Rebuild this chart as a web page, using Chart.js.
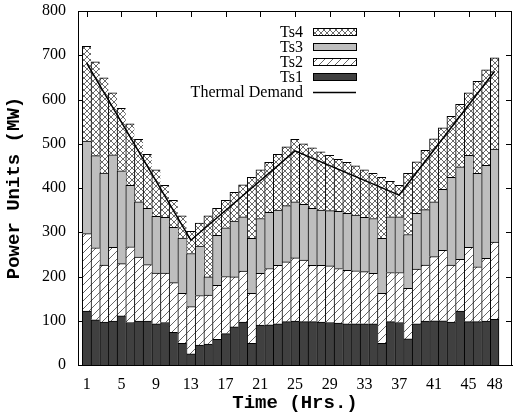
<!DOCTYPE html>
<html lang="en">
<head>
  <meta charset="UTF-8" />
  <title>Thermal units schedule</title>
  <script src="https://cdn.jsdelivr.net/npm/chart.js"></script>
  <style>
    html, body { margin: 0; padding: 0; background: #fff; }
    canvas { display: block; }
  </style>
</head>
<body>
  <canvas id="units" width="519" height="414"></canvas>

  <script>
    // hours 1..48
    const hours = [1, 2, 3, 4, 5, 6, 7, 8, 9, 10, 11, 12, 13, 14, 15, 16, 17, 18, 19, 20, 21, 22, 23, 24,
                   25, 26, 27, 28, 29, 30, 31, 32, 33, 34, 35, 36, 37, 38, 39, 40, 41, 42, 43, 44, 45, 46, 47, 48];

    // MW per unit
    const ts1 = [122, 102, 97, 99, 111, 96, 99, 99, 93, 96, 74, 49, 25, 45, 47, 58, 71, 86, 97, 49, 90, 91, 93, 98,
                 99, 98, 98, 97, 96, 95, 93, 93, 93, 93, 49, 98, 96, 59, 93, 99, 100, 100, 97, 122, 98, 98, 99, 103];
    const ts2 = [175, 163, 129, 167, 118, 171, 145, 128, 115, 112, 112, 113, 107, 112, 111, 122, 129, 113, 115, 113, 117, 127, 132, 135,
                 143, 139, 127, 128, 128, 123, 121, 120, 118, 114, 113, 111, 113, 114, 124, 127, 145, 159, 129, 117, 168, 124, 142, 175];
    const ts3 = [209, 208, 208, 209, 210, 139, 125, 127, 128, 126, 125, 125, 120, 112, 41, 113, 110, 126, 123, 124, 124, 127, 125, 127,
                 127, 126, 129, 125, 125, 129, 129, 126, 123, 124, 124, 126, 126, 122, 126, 125, 124, 138, 198, 209, 208, 211, 210, 210];
    const ts4 = [214, 212, 215, 140, 141, 139, 141, 122, 105, 72, 61, 50, 50, 52, 138, 61, 62, 65, 72, 138, 110, 113, 126, 133,
                 141, 137, 137, 132, 125, 118, 115, 111, 107, 102, 138, 80, 71, 138, 116, 134, 142, 139, 138, 141, 141, 208, 216, 206];

    // thermal demand corners
    const demandHours = [1, 13, 25, 37, 48];
    const demand = [682, 282, 484, 384, 664];

    const xTicks = [1, 5, 9, 13, 17, 21, 25, 29, 33, 37, 41, 45, 48];

    const canvas = document.getElementById('units');
    const ctx = canvas.getContext('2d');

    function hatch() {
      const c = document.createElement('canvas');
      c.width = 8; c.height = 8;
      const g = c.getContext('2d');
      g.fillStyle = '#fff';
      g.fillRect(0, 0, 8, 8);
      g.strokeStyle = '#555';
      g.lineWidth = 0.9;
      g.beginPath();
      g.moveTo(-1, 9); g.lineTo(9, -1);
      g.moveTo(-5, 5); g.lineTo(5, -5);
      g.moveTo(3, 13); g.lineTo(13, 3);
      g.stroke();
      return ctx.createPattern(c, 'repeat');
    }

    function crossHatch() {
      const c = document.createElement('canvas');
      c.width = 6; c.height = 6;
      const g = c.getContext('2d');
      g.fillStyle = '#fff';
      g.fillRect(0, 0, 6, 6);
      g.strokeStyle = '#444';
      g.lineWidth = 0.8;
      g.beginPath();
      g.moveTo(-1, 7); g.lineTo(7, -1);
      g.moveTo(-1, -1); g.lineTo(7, 7);
      g.stroke();
      return ctx.createPattern(c, 'repeat');
    }

    const pts = arr => hours.map((h, i) => ({ x: h, y: arr[i] }));
    const edge = c => ({ top: 1, left: 1, bottom: 0, right: (c.raw && c.raw.x === 48) ? 1 : 0 });

    const barDefaults = {
      type: 'bar',
      order: 1,
      borderColor: '#000',
      borderWidth: edge,
      borderSkipped: false,
      categoryPercentage: 1,
      barPercentage: 1
    };

    // inward tics on all four sides + full frame
    const frame = {
      id: 'frame',
      beforeDatasetsDraw(chart) {
        const { ctx, chartArea: a, scales } = chart;
        ctx.save();
        ctx.strokeStyle = '#000';
        ctx.lineWidth = 1;
        ctx.beginPath();
        for (let v = 0; v <= 800; v += 100) {
          const y = Math.round(scales.y.getPixelForValue(v)) + 0.5;
          ctx.moveTo(a.left, y); ctx.lineTo(a.left + 6, y);
          ctx.moveTo(a.right, y); ctx.lineTo(a.right - 6, y);
        }
        xTicks.forEach(v => {
          const x = Math.round(scales.x.getPixelForValue(v)) + 0.5;
          ctx.moveTo(x, a.bottom); ctx.lineTo(x, a.bottom - 6);
          ctx.moveTo(x, a.top); ctx.lineTo(x, a.top + 6);
        });
        ctx.stroke();
        ctx.restore();
      },
      afterDraw(chart) {
        const { ctx, chartArea: a } = chart;
        ctx.save();
        ctx.strokeStyle = '#000';
        ctx.lineWidth = 1;
        ctx.strokeRect(Math.round(a.left) + 0.5, Math.round(a.top) + 0.5,
                       Math.round(a.right - a.left) - 1, Math.round(a.bottom - a.top));
        ctx.restore();
      }
    };

    // gnuplot style key: text right aligned, sample on the right
    const key = {
      id: 'key',
      afterDraw(chart) {
        const { ctx } = chart;
        const ds = chart.data.datasets;
        const rows = [ds[3], ds[2], ds[1], ds[0], ds[4]];
        ctx.save();
        ctx.font = '16px "Liberation Serif"';
        ctx.textAlign = 'right';
        ctx.textBaseline = 'middle';
        rows.forEach((d, i) => {
          const y = 32 + i * 15;
          ctx.fillStyle = '#000';
          ctx.fillText(d.label, 303, y + 1);
          if (d.type === 'line') {
            ctx.strokeStyle = '#000';
            ctx.lineWidth = 1.5;
            ctx.beginPath();
            ctx.moveTo(313, y + 0.5); ctx.lineTo(356, y + 0.5);
            ctx.stroke();
          } else {
            ctx.fillStyle = d.backgroundColor;
            ctx.fillRect(313, y - 3.5, 43, 7);
            ctx.strokeStyle = '#000';
            ctx.lineWidth = 1;
            ctx.strokeRect(313.5, y - 3.5, 43, 7);
          }
        });
        ctx.restore();
      }
    };

    new Chart(ctx, {
      type: 'bar',
      data: {
        datasets: [
          Object.assign({}, barDefaults, { label: 'Ts1', data: pts(ts1), backgroundColor: '#404040' }),
          Object.assign({}, barDefaults, { label: 'Ts2', data: pts(ts2), backgroundColor: hatch() }),
          Object.assign({}, barDefaults, { label: 'Ts3', data: pts(ts3), backgroundColor: '#bebebe' }),
          Object.assign({}, barDefaults, { label: 'Ts4', data: pts(ts4), backgroundColor: crossHatch() }),
          {
            type: 'line',
            label: 'Thermal Demand',
            order: 0,
            stack: 'demand',
            data: demandHours.map((h, i) => ({ x: h, y: demand[i] })),
            borderColor: '#000',
            borderWidth: 1.5,
            pointRadius: 0,
            fill: false,
            tension: 0
          }
        ]
      },
      options: {
        responsive: false,
        devicePixelRatio: 1,
        animation: false,
        layout: { padding: { top: 11, right: 7, left: 0, bottom: 0 } },
        plugins: {
          legend: { display: false },
          tooltip: { enabled: false }
        },
        scales: {
          x: {
            type: 'linear',
            stacked: true,
            offset: false,
            min: 0,
            max: 50,
            afterBuildTicks: s => { s.ticks = xTicks.map(v => ({ value: v })); },
            afterFit: s => { s.height = 49; },
            grid: { display: false, drawTicks: false, offset: false },
            border: { color: '#000', width: 1 },
            ticks: {
              color: '#000',
              padding: 10,
              maxRotation: 0,
              autoSkip: false,
              font: { family: '"Liberation Serif"', size: 16 }
            },
            title: {
              display: true,
              text: 'Time (Hrs.)',
              color: '#000',
              padding: { top: 0, bottom: 1 },
              font: { family: '"Liberation Mono"', size: 19, weight: 'bold', lineHeight: 1 }
            }
          },
          y: {
            stacked: true,
            min: 0,
            max: 800,
            afterFit: s => { s.width = 78; s.paddingTop = 0; s.paddingBottom = 0; },
            grid: { display: false, drawTicks: false },
            border: { color: '#000', width: 1 },
            ticks: {
              stepSize: 100,
              color: '#000',
              padding: 12,
              font: { family: '"Liberation Serif"', size: 16 }
            },
            title: {
              display: true,
              text: 'Power Units (MW)',
              color: '#000',
              padding: { top: 5, bottom: 0 },
              font: { family: '"Liberation Mono"', size: 19, weight: 'bold', lineHeight: 1 }
            }
          }
        }
      },
      plugins: [frame, key]
    });
  </script>
</body>
</html>
